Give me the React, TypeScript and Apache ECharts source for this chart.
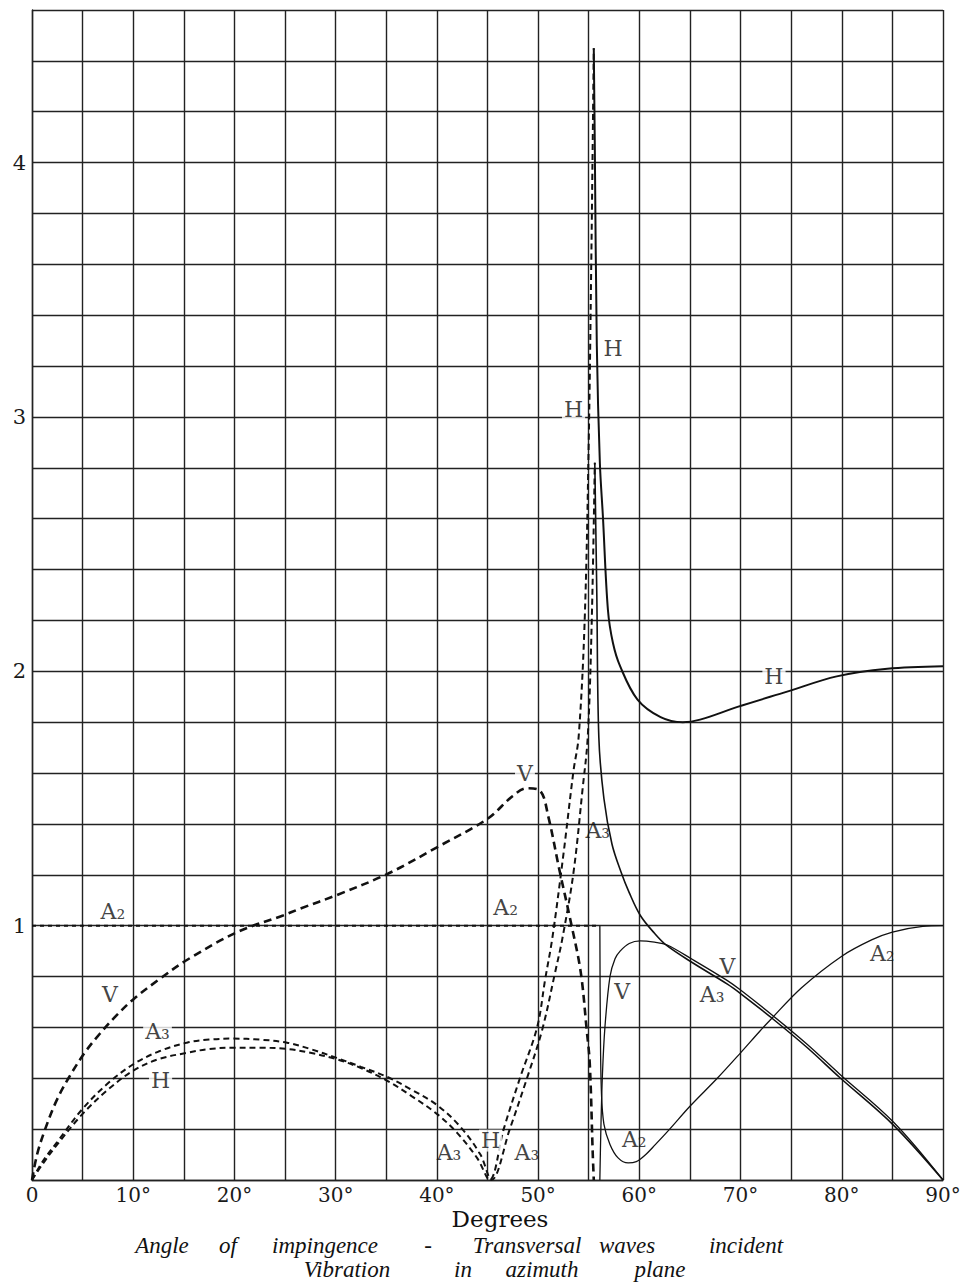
import React, { useEffect, useRef } from "react";
import * as echarts from "echarts";

// Angle of impingence in degrees (x), relative amplitude (y).
const xTicks = [0, 10, 20, 30, 40, 50, 60, 70, 80, 90];
const yTicks = [1, 2, 3, 4];

// Below the critical angle (dashed curves)
const a2Below: [number, number][] = [[0, 1], [56.1, 1]];
const vBelow: [number, number][] = [
  [0, 0], [0.5, 0.1], [1.3, 0.2], [2.4, 0.31], [3.6, 0.4], [5.2, 0.5], [6.7, 0.575], [8.3, 0.645],
  [10, 0.71], [12.6, 0.79], [15.3, 0.865], [20.3, 0.975], [24.8, 1.04], [26.5, 1.067],
  [30.1, 1.12], [35.2, 1.205], [40.1, 1.31], [45, 1.42], [47.5, 1.51], [48.9, 1.54],
  [50.2, 1.53], [51, 1.43], [52.1, 1.22], [53.2, 1.02], [54.2, 0.82], [54.8, 0.59],
  [55.1, 0.46], [55.4, 0.1], [55.5, 0],
];
const a3Below: [number, number][] = [
  [0, 0], [1, 0.07], [2.5, 0.15], [5, 0.28], [7.5, 0.38], [10, 0.455], [12.5, 0.505],
  [15.3, 0.54], [17.5, 0.552], [19.9, 0.556], [22.5, 0.552], [25.2, 0.54], [27.5, 0.515],
  [30.1, 0.48], [32.5, 0.445], [35.1, 0.405], [37.5, 0.355], [40, 0.295], [42.3, 0.21],
  [44.3, 0.1], [45.4, 0], [47.2, 0.2], [48.9, 0.4], [50.4, 0.59], [51.7, 0.82], [52.4, 0.95],
  [53.5, 1.21], [54.4, 1.54], [54.9, 1.74], [55.3, 2.2], [55.6, 2.82],
];
const hBelow: [number, number][] = [
  [0, 0], [1, 0.06], [2.5, 0.14], [5, 0.26], [7.5, 0.355], [10, 0.43], [12.5, 0.475],
  [15.3, 0.5], [17.5, 0.515], [19.9, 0.52], [22.5, 0.52], [25.2, 0.515], [27.5, 0.5],
  [30.1, 0.475], [32.5, 0.44], [35.1, 0.39], [37.5, 0.33], [40, 0.26], [42, 0.185],
  [44, 0.085], [45.2, 0], [46.6, 0.2], [48.2, 0.4], [49.9, 0.6], [50.7, 0.79], [51.4, 0.95],
  [52.5, 1.28], [53.5, 1.61], [54.0, 1.74], [54.6, 2.2], [55.0, 2.9], [55.25, 3.6],
  [55.4, 4.1], [55.5, 4.45],
];

// Beyond the critical angle (solid curves)
const hAbove: [number, number][] = [
  [55.5, 4.45], [55.6, 4.07], [55.8, 3.28], [56.1, 2.82], [56.4, 2.61], [56.9, 2.24],
  [57.4, 2.11], [58.1, 2.02], [59.8, 1.89], [62.1, 1.82], [64.3, 1.8], [66, 1.81],
  [69.7, 1.86], [74.6, 1.92], [79.5, 1.98], [84.5, 2.01], [90, 2.02],
];
const a3Above: [number, number][] = [
  [55.6, 2.82], [55.8, 2.3], [56.0, 1.74], [56.5, 1.5], [57.3, 1.32], [58.2, 1.21],
  [59, 1.13], [60.1, 1.04], [61.5, 0.97], [62.7, 0.922], [65.3, 0.853], [68.7, 0.77],
  [70, 0.733], [73.2, 0.633], [76.6, 0.52], [79.8, 0.403], [85.1, 0.216], [90, 0],
];
const vAbove: [number, number][] = [
  [56.1, 0], [56.2, 0.2], [56.35, 0.41], [56.6, 0.6], [57.1, 0.8], [57.6, 0.87], [58.1, 0.9],
  [59, 0.93], [60.1, 0.94], [61.5, 0.935], [62.7, 0.925], [65.3, 0.866], [68.7, 0.784],
  [70, 0.747], [73.2, 0.646], [76.6, 0.533], [79.8, 0.416], [85.1, 0.228], [90, 0],
];
const a2Above: [number, number][] = [
  [56.1, 1.0], [56.15, 0.6], [56.25, 0.35], [56.5, 0.22], [57.1, 0.14], [57.9, 0.087],
  [58.9, 0.067], [59.7, 0.072], [60.5, 0.095], [61.6, 0.14], [63, 0.2], [65, 0.29],
  [67.7, 0.4], [70, 0.5], [71.9, 0.585], [73, 0.632], [76, 0.755], [80, 0.88], [83, 0.945],
  [85, 0.975], [88, 0.997], [90, 1.0],
];

// Curve names written beside the curves: text, angle, amplitude, masks the grid
const curveNames: [string, number, number, boolean][] = [
  ["A₂", 8.0, 1.055, false],
  ["V", 7.7, 0.73, false],
  ["A₃", 12.4, 0.585, true],
  ["H", 12.7, 0.39, true],
  ["V", 48.7, 1.6, true],
  ["A₂", 46.8, 1.07, false],
  ["H", 53.5, 3.03, true],
  ["H", 57.4, 3.27, false],
  ["A₃", 55.9, 1.375, false],
  ["H", 73.3, 1.98, true],
  ["V", 58.3, 0.74, false],
  ["A₂", 59.5, 0.16, false],
  ["V", 68.7, 0.84, false],
  ["A₃", 67.2, 0.73, false],
  ["A₂", 84.0, 0.89, false],
  ["A₃", 41.2, 0.11, false],
  ["H", 45.3, 0.155, true],
  ["A₃", 48.9, 0.107, false],
];

const titleLine1: [string, number][] = [
  ["Angle", 162], ["of", 228], ["impingence", 325], ["-", 428],
  ["Transversal", 527], ["waves", 627], ["incident", 746],
];
const titleLine2: [string, number][] = [
  ["Vibration", 347], ["in", 463], ["azimuth", 542], ["plane", 660],
];

const INK = "#111";
const SERIF = '"DejaVu Serif", "Liberation Serif", serif';
const SCRIPT = '"Liberation Serif", "DejaVu Serif", serif';

function curve(data: [number, number][], width: number, type: any, smooth = 0.35) {
  return {
    type: "line",
    data,
    showSymbol: false,
    smooth,
    lineStyle: { color: INK, width, type },
    z: 3,
    silent: true,
  };
}

export default function App() {
  const ref = useRef<HTMLDivElement>(null);

  useEffect(() => {
    if (!ref.current) return;
    const chart = echarts.init(ref.current, undefined, { renderer: "svg" });

    const gridLine = { show: true, lineStyle: { color: "#222", width: 1.4 } };

    const words = (line: [string, number][], y: number) =>
      line.map(([t, x]) => ({
        type: "text",
        x,
        y,
        style: {
          text: t,
          font: `italic 23px ${SCRIPT}`,
          fill: INK,
          textAlign: "center",
          textVerticalAlign: "middle",
        },
      }));

    chart.setOption({
      animation: false,
      backgroundColor: "#fff",
      grid: { left: 32, top: 10, width: 911, height: 1170, outerBoundsMode: "none", containLabel: false },
      xAxis: {
        type: "value",
        min: 0,
        max: 90,
        interval: 5,
        axisLine: { show: true, lineStyle: { color: "#222", width: 1.4 } },
        axisTick: { show: false },
        splitLine: gridLine,
        axisLabel: {
          margin: 5,
          fontSize: 20,
          fontFamily: SERIF,
          color: "#1a1a1a",
          formatter: (v: number) => {
            const r = Math.round(v);
            if (!xTicks.includes(r) || Math.abs(v - r) > 1e-6) return "";
            return r === 0 ? "0" : `${r}°`;
          },
        },
      },
      yAxis: {
        type: "value",
        min: 0,
        max: 4.6,
        interval: 0.2,
        axisLine: { show: true, lineStyle: { color: "#222", width: 1.4 } },
        axisTick: { show: false },
        splitLine: gridLine,
        axisLabel: {
          margin: 6,
          fontSize: 21,
          fontFamily: SERIF,
          color: "#1a1a1a",
          formatter: (v: number) => {
            const r = Math.round(v);
            return Math.abs(v - r) < 1e-6 && yTicks.includes(r) ? String(r) : "";
          },
        },
      },
      series: [
        curve(a2Below, 2, [4, 4], 0),
        curve(vBelow, 2.6, [8, 5]),
        curve(a3Below, 2, [6, 4]),
        curve(hBelow, 2, [6, 4]),
        curve(hAbove, 2, "solid"),
        curve(a3Above, 1.6, "solid"),
        curve(vAbove, 1.3, "solid"),
        curve(a2Above, 1.3, "solid"),
        {
          type: "scatter",
          symbol: "circle",
          symbolSize: 1,
          itemStyle: { color: "rgba(0,0,0,0)" },
          silent: true,
          z: 10,
          data: curveNames.map(([t, x, y, mask]) => ({
            name: t,
            value: [x, y],
            label: {
              show: true,
              position: "inside",
              formatter: t,
              fontFamily: SERIF,
              fontSize: 22,
              color: INK,
              backgroundColor: mask ? "#fff" : "transparent",
              padding: mask ? [0, 2] : 0,
            },
          })),
        },
      ],
      graphic: [
        {
          type: "text",
          x: 500,
          y: 1219,
          style: {
            text: "Degrees",
            font: `23px ${SERIF}`,
            fill: INK,
            textAlign: "center",
            textVerticalAlign: "middle",
          },
        },
        ...words(titleLine1, 1245),
        ...words(titleLine2, 1269),
      ],
    });

    return () => chart.dispose();
  }, []);

  return (
    <div
      ref={ref}
      style={{ position: "fixed", left: 0, top: 0, width: 960, height: 1283, background: "#fff" }}
    />
  );
}
